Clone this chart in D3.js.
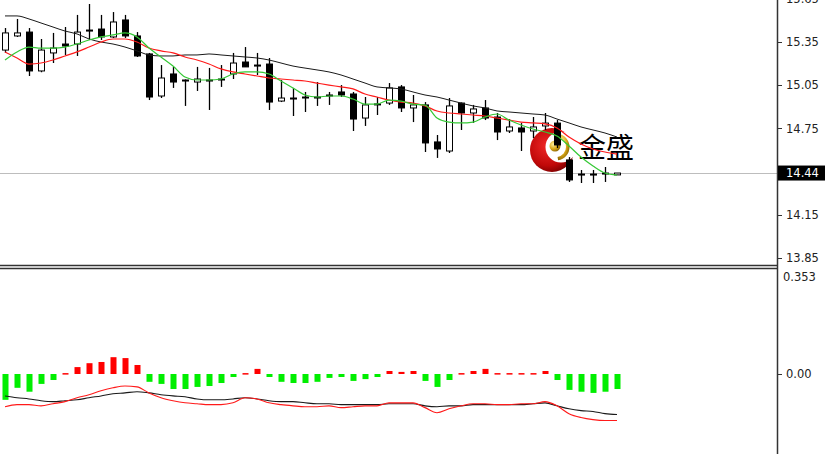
<!DOCTYPE html>
<html><head><meta charset="utf-8">
<script src="https://cdn.jsdelivr.net/npm/d3@7"></script>
<style>html,body{margin:0;padding:0;background:#fff;}svg{display:block;}</style>
</head><body>
<svg id="c" width="825" height="454"></svg>
<script>
// ---- data (index = bar number, oldest first) ----
const opens  = [15.294,15.392,15.419,15.149,15.274,15.336,15.336,15.433,15.440,15.385,15.503,15.392,15.267,14.975,15.128,15.086,15.072,15.086,15.093,15.128,15.211,15.190,15.197,14.940,14.961,14.961,14.968,14.982,15.003,14.989,14.822,14.920,14.926,15.038,14.892,14.913,14.656,14.593,14.926,14.857,14.892,14.829,14.732,14.753,14.732,14.767,14.787,14.531,14.433,14.433,14.440,14.427];
const highs  = [15.447,15.510,15.447,15.371,15.413,15.454,15.538,15.614,15.538,15.558,15.538,15.419,15.274,15.190,15.177,15.090,15.177,15.170,15.190,15.274,15.315,15.274,15.239,15.086,15.031,15.003,15.072,15.003,15.051,15.003,14.968,14.968,15.065,15.051,14.982,14.933,14.704,14.961,14.930,14.913,14.947,14.857,14.815,14.787,14.829,14.857,14.808,14.551,14.461,14.461,14.482,14.440];
const lows   = [15.274,15.385,15.114,15.140,15.204,15.260,15.253,15.364,15.364,15.378,15.378,15.246,14.947,14.961,15.031,14.906,15.010,14.878,15.038,15.093,15.177,15.121,14.878,14.933,14.836,14.864,14.906,14.913,14.968,14.732,14.767,14.843,14.913,14.864,14.794,14.586,14.545,14.579,14.739,14.788,14.808,14.669,14.718,14.593,14.683,14.739,14.614,14.378,14.371,14.371,14.378,14.427];
const closes = [15.413,15.413,15.149,15.294,15.308,15.322,15.419,15.426,15.385,15.489,15.392,15.253,14.968,15.100,15.072,15.079,15.093,15.083,15.090,15.204,15.177,15.183,14.933,14.961,14.958,14.968,14.965,14.979,14.982,14.815,14.913,14.917,15.031,14.892,14.913,14.649,14.607,14.906,14.857,14.885,14.822,14.725,14.760,14.725,14.760,14.787,14.635,14.392,14.427,14.430,14.433,14.440];
const maSlow = [15.531,15.531,15.510,15.482,15.454,15.426,15.406,15.371,15.350,15.336,15.315,15.288,15.260,15.253,15.253,15.260,15.260,15.267,15.260,15.253,15.246,15.239,15.225,15.204,15.183,15.169,15.156,15.142,15.121,15.093,15.065,15.038,15.031,15.024,15.003,14.982,14.968,14.947,14.926,14.906,14.892,14.871,14.864,14.857,14.850,14.843,14.815,14.788,14.760,14.739,14.718,14.690];
const maMid  = [15.281,15.239,15.197,15.204,15.225,15.253,15.281,15.315,15.350,15.371,15.371,15.350,15.308,15.288,15.274,15.246,15.225,15.197,15.163,15.142,15.128,15.114,15.100,15.093,15.086,15.079,15.065,15.051,15.038,15.024,14.989,14.968,14.947,14.933,14.926,14.906,14.871,14.857,14.850,14.843,14.836,14.822,14.808,14.794,14.788,14.781,14.753,14.690,14.642,14.607,14.586,14.572];
const maFast = [15.225,15.281,15.315,15.308,15.308,15.315,15.336,15.364,15.385,15.399,15.413,15.385,15.308,15.246,15.183,15.107,15.086,15.086,15.093,15.128,15.142,15.142,15.128,15.079,15.031,14.982,14.968,14.975,14.975,14.954,14.919,14.919,14.947,14.940,14.919,14.912,14.822,14.794,14.788,14.794,14.829,14.850,14.808,14.774,14.746,14.725,14.697,14.628,14.551,14.489,14.440,14.426];
const histo  = [-0.086,-0.046,-0.059,-0.033,-0.020,0.003,0.023,0.036,0.040,0.056,0.053,0.030,-0.026,-0.033,-0.050,-0.050,-0.043,-0.040,-0.030,-0.010,0.003,0.017,-0.010,-0.026,-0.030,-0.030,-0.026,-0.013,-0.010,-0.023,-0.017,-0.010,0.010,0.007,0.010,-0.023,-0.043,-0.020,0.003,0.010,0.017,0.003,0.003,0.003,0.003,0.010,-0.020,-0.053,-0.059,-0.063,-0.059,-0.050];
const oscBlack = [-0.073,-0.079,-0.083,-0.089,-0.092,-0.089,-0.086,-0.079,-0.073,-0.066,-0.063,-0.059,-0.063,-0.069,-0.073,-0.076,-0.083,-0.086,-0.086,-0.083,-0.079,-0.083,-0.089,-0.092,-0.092,-0.096,-0.099,-0.099,-0.102,-0.102,-0.102,-0.102,-0.099,-0.099,-0.099,-0.106,-0.109,-0.106,-0.106,-0.102,-0.102,-0.102,-0.102,-0.102,-0.099,-0.096,-0.106,-0.116,-0.122,-0.125,-0.132,-0.135];
const oscRed   = [-0.109,-0.102,-0.102,-0.106,-0.099,-0.092,-0.079,-0.069,-0.056,-0.046,-0.040,-0.043,-0.063,-0.079,-0.089,-0.096,-0.099,-0.102,-0.102,-0.096,-0.079,-0.083,-0.096,-0.102,-0.106,-0.109,-0.109,-0.106,-0.112,-0.109,-0.106,-0.106,-0.096,-0.096,-0.096,-0.112,-0.129,-0.116,-0.106,-0.099,-0.099,-0.102,-0.102,-0.099,-0.099,-0.092,-0.106,-0.132,-0.145,-0.152,-0.155,-0.155];
const priceTicks = [15.65,15.35,15.05,14.75,14.45,14.15,13.85];
const priceTickLabels = ["15.65","15.35","15.05","14.75","14.45","14.15","13.85"];
const lastPrice = 14.44;
const lastPriceLabel = "14.44";
const oscMaxLabel = "0.353";
const oscZeroLabel = "0.00";
const oscMax = 0.353;
const logoText = "金盛";

// ---- drawing ----
const svg = d3.select("#c");
const W = 825, H = 454, axisX = 777;
const idx = d3.range(opens.length);
const x = d3.scaleLinear().domain([0, opens.length - 1]).range([5, 617]);
const y = d3.scaleLinear().domain([13.85, 15.35]).range([258, 42]);
const yo = d3.scaleLinear().domain([0, oscMax]).range([374, 268]);
const font = "'DejaVu Sans', Verdana, sans-serif";

const defs = svg.append("defs");
const rg = defs.append("radialGradient").attr("id","rg").attr("cx","40%").attr("cy","40%").attr("r","65%");
rg.append("stop").attr("offset","0%").attr("stop-color","#f02828");
rg.append("stop").attr("offset","70%").attr("stop-color","#c00808");
rg.append("stop").attr("offset","100%").attr("stop-color","#7a0000");
const gg = defs.append("radialGradient").attr("id","gg").attr("cx","35%").attr("cy","35%").attr("r","70%");
gg.append("stop").attr("offset","0%").attr("stop-color","#fff2a0");
gg.append("stop").attr("offset","60%").attr("stop-color","#d9a816");
gg.append("stop").attr("offset","100%").attr("stop-color","#8a6400");
defs.append("clipPath").attr("id","topClip").append("rect").attr("x",0).attr("y",0).attr("width",axisX).attr("height",265);
defs.append("clipPath").attr("id","botClip").append("rect").attr("x",0).attr("y",269).attr("width",axisX).attr("height",H-269);

const topG = svg.append("g").attr("clip-path","url(#topClip)");
// last price line
topG.append("line").attr("x1",0).attr("x2",axisX).attr("y1",Math.round(y(lastPrice))+0.5).attr("y2",Math.round(y(lastPrice))+0.5)
  .attr("stroke","#bdbdbd").attr("stroke-width",1);

// logo (watermark)
const logo = topG.append("g");
logo.append("circle").attr("cx",552).attr("cy",150).attr("r",22).attr("fill","url(#rg)");
logo.append("circle").attr("cx",561).attr("cy",147).attr("r",15.5).attr("fill","#fff");
const arc = d3.arc().innerRadius(10).outerRadius(13.5).startAngle(Math.PI*0.05).endAngle(Math.PI*0.95);
logo.append("path").attr("d",arc()).attr("transform","translate(556,147)").attr("fill","url(#gg)");
logo.append("circle").attr("cx",555).attr("cy",146).attr("r",5.5).attr("fill","url(#gg)");
logo.append("text").attr("x",578).attr("y",158).attr("font-family","'Noto Sans CJK SC', sans-serif")
  .attr("font-size",28).attr("fill","#000").text(logoText);

// wicks
const bw = 6;
topG.selectAll("line.wick").data(idx).join("line").attr("class","wick")
  .attr("x1",i=>Math.round(x(i))+0.5).attr("x2",i=>Math.round(x(i))+0.5)
  .attr("y1",i=>y(highs[i])).attr("y2",i=>y(lows[i]))
  .attr("stroke","#000").attr("stroke-width",1.3);
// bodies
topG.selectAll("rect.body").data(idx).join("rect").attr("class","body")
  .attr("x",i=>Math.round(x(i))-bw/2+0.5)
  .attr("y",i=>y(Math.max(opens[i],closes[i])))
  .attr("width",bw)
  .attr("height",i=>Math.max(1,Math.abs(y(opens[i])-y(closes[i]))))
  .attr("fill",i=>closes[i]>=opens[i]?"#fff":"#000")
  .attr("stroke","#000").attr("stroke-width",1);

// moving averages
const mkLine = (arr, yy) => d3.line().x((d,i)=>x(i)).y(d=>yy(d)).curve(d3.curveMonotoneX)(arr);
topG.append("path").attr("d",mkLine(maSlow,y)).attr("fill","none").attr("stroke","#1a1a1a").attr("stroke-width",1);
topG.append("path").attr("d",mkLine(maMid,y)).attr("fill","none").attr("stroke","#ff1a1a").attr("stroke-width",1.2);
topG.append("path").attr("d",mkLine(maFast,y)).attr("fill","none").attr("stroke","#35c835").attr("stroke-width",1.2);

// panel separators
svg.append("line").attr("x1",0).attr("x2",axisX).attr("y1",265.5).attr("y2",265.5).attr("stroke","#333").attr("stroke-width",1.5);
svg.append("line").attr("x1",0).attr("x2",axisX).attr("y1",268.5).attr("y2",268.5).attr("stroke","#333").attr("stroke-width",1.5);
// right axis line
svg.append("line").attr("x1",axisX+0.5).attr("x2",axisX+0.5).attr("y1",0).attr("y2",H).attr("stroke","#333").attr("stroke-width",1.5);

// price axis ticks/labels
const ax = svg.append("g");
ax.selectAll("line").data(priceTicks).join("line")
  .attr("x1",axisX+1).attr("x2",axisX+5).attr("y1",d=>Math.round(y(d))+0.5).attr("y2",d=>Math.round(y(d))+0.5)
  .attr("stroke","#333");
ax.selectAll("text").data(priceTicks).join("text")
  .attr("x",axisX+9).attr("y",d=>y(d)).attr("dy","0.36em")
  .attr("font-family",font).attr("font-size",11.5).attr("fill","#222")
  .text((d,i)=>priceTickLabels[i]);
// last price tag
const ly = y(lastPrice);
svg.append("rect").attr("x",axisX+1).attr("y",ly-7.5).attr("width",W-axisX-1).attr("height",15).attr("fill","#000");
svg.append("text").attr("x",axisX+9).attr("y",ly).attr("dy","0.36em").attr("font-family",font).attr("font-size",11.5)
  .attr("fill","#fff").text(lastPriceLabel);

// oscillator panel
const bot = svg.append("g").attr("clip-path","url(#botClip)");
const hb = 6;
bot.selectAll("rect.h").data(idx).join("rect").attr("class","h")
  .attr("x",i=>Math.round(x(i))-hb/2+0.5)
  .attr("y",i=>Math.min(yo(0),yo(histo[i])))
  .attr("width",hb)
  .attr("height",i=>Math.max(1.5,Math.abs(yo(histo[i])-yo(0))))
  .attr("fill",i=>histo[i]>=0?"#ff0000":"#00ee00");
bot.append("path").attr("d",mkLine(oscBlack,yo)).attr("fill","none").attr("stroke","#1a1a1a").attr("stroke-width",1.1);
bot.append("path").attr("d",mkLine(oscRed,yo)).attr("fill","none").attr("stroke","#ff1a1a").attr("stroke-width",1.1);

svg.append("line").attr("x1",axisX+1).attr("x2",axisX+5).attr("y1",Math.round(yo(0))+0.5).attr("y2",Math.round(yo(0))+0.5).attr("stroke","#333");
svg.append("text").attr("x",axisX+9).attr("y",yo(0)).attr("dy","0.36em").attr("font-family",font).attr("font-size",11.5)
  .attr("fill","#222").text(oscZeroLabel);
svg.append("text").attr("x",axisX+6).attr("y",277).attr("dy","0.36em").attr("font-family",font).attr("font-size",11.5)
  .attr("fill","#222").text(oscMaxLabel);
</script>
</body></html>
